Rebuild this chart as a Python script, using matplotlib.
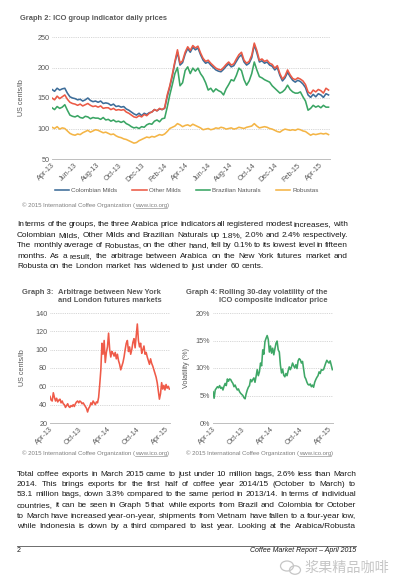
import matplotlib
matplotlib.use('Agg')
import matplotlib.pyplot as plt
import matplotlib.dates as mdates
from matplotlib.ticker import FuncFormatter
from matplotlib.patches import Ellipse
from matplotlib.lines import Line2D
import pandas as pd

W, H = 406, 588
plt.rcParams['font.family'] = ['Liberation Sans', 'DejaVu Sans']

# weekly readings, Apr-13 .. Apr-15 (one row per month)
weeks = pd.date_range('2013-04-01', '2015-04-27', freq='W-MON')

colombian = [164, 161, 166, 163, 165,  166, 158, 152, 150,  149, 147, 148, 145,
             147, 150, 146, 144, 145,  143, 145, 141, 142,  141, 138, 140, 136, 137,
             135, 136, 132, 130,  127, 124, 122, 125,  121, 125, 123, 126, 127,
             131, 129, 132, 131,  133, 152, 168, 186,  208, 225, 204, 208, 222,
             231, 225, 233, 229,  232, 221, 212, 207,  209, 204, 200, 196, 194,
             193, 197, 202, 206,  201, 203, 210, 217,  221, 209, 204, 207, 216,
             237, 224, 209, 211,  207, 209, 204, 202,  196, 200, 187, 178, 183,
             192, 185, 179, 176,  179, 177, 173, 167,  155, 151, 156, 152, 157,
             155, 151, 157, 155]
other_milds = [150, 147, 153, 149, 152,  155, 148, 143, 141,  140, 138, 140, 137,
               139, 141, 138, 136, 137,  135, 137, 133, 134,  134, 131, 133, 130, 131,
               130, 131, 127, 125,  122, 119, 118, 121,  119, 123, 121, 125, 127,
               131, 129, 133, 131,  134, 155, 170, 189,  210, 229, 207, 211, 225,
               234, 228, 236, 232,  235, 224, 215, 210,  212, 207, 203, 199, 197,
               196, 200, 205, 209,  204, 206, 214, 221,  225, 212, 207, 210, 220,
               240, 228, 212, 214,  210, 212, 207, 205,  199, 203, 190, 181, 186,
               196, 188, 182, 180,  183, 181, 178, 172,  160, 157, 163, 160, 164,
               162, 158, 166, 163]
brazilian = [134, 131, 136, 133, 135,  139, 130, 122, 120,  119, 121, 118, 117,
             120, 119, 116, 118, 117,  117, 115, 118, 114,  115, 112, 114, 111, 112,
             110, 112, 108, 106,  103, 101, 102, 100,  103, 102, 106, 108, 107,
             112, 114, 111, 116,  117, 135, 155, 172,  190, 200, 170, 175, 195,
             201, 190, 199, 194,  199, 190, 184, 175,  163, 166, 160, 165, 162,
             160, 155, 165, 172,  180, 178, 187, 199,  195, 180, 171, 178, 190,
             209, 196, 185, 183,  180, 178, 176, 170,  166, 162, 158, 160, 164,
             171, 164, 160, 158,  158, 160, 152, 145,  130, 133, 138, 135, 137,
             134, 138, 135, 135]
robustas = [102, 100, 103, 99, 101,  100, 96, 92, 90,  89, 91, 90, 93,
            95, 97, 94, 96, 98,  97, 95, 93, 94,  92, 90, 91, 88, 86,
            85, 83, 82, 80,  78, 76, 77, 80,  82, 84, 86, 85, 87,
            86, 88, 90, 89,  91, 95, 100, 102,  104, 108, 106, 103, 105,
            106, 104, 107, 105,  103, 101, 98, 99,  100, 98, 99, 101, 100,
            102, 101, 99, 100,  101, 99, 100, 102,  101, 100, 102, 103, 104,
            108, 104, 101, 102,  103, 102, 100, 99,  97, 95, 94, 97, 99,
            98, 97, 98, 97,  99, 98, 96, 95,  92, 89, 91, 90, 91,
            92, 91, 92, 90]
arbitrage = [49, 45, 44, 53, 48,  44, 47, 43, 45,  46, 42, 44, 41,
             40, 37, 39, 41, 38,  37, 39, 38, 40,  38, 41, 43, 44, 42,
             44, 43, 41, 42,  40, 38, 36, 32,  36, 38, 42, 40, 44,
             42, 40, 43, 42,  48, 62, 78, 107,  95, 110, 86, 97, 103,
             118, 100, 92, 98,  96, 93, 97, 90,  95, 88, 84, 78, 82,
             86, 92, 100, 107,  110, 98, 103, 95,  100, 108, 112, 102, 115,
             128, 110, 103, 107,  96, 100, 104, 95,  97, 92, 88, 84, 90,
             85, 82, 78, 74,  70, 64, 55, 46,  52, 64, 57, 61, 56,
             62, 58, 60, 57]
volatility = [5.7, 4.5, 6.0, 6.3, 6.6,  6.4, 6.8, 6.3, 6.5,  6.0, 6.7, 7.2, 6.8,
              8.0, 7.6, 8.0, 7.9, 7.5,  7.2, 6.6, 6.9, 6.4,  6.0, 6.2, 5.7, 5.4, 5.2,
              5.0, 4.6, 4.4, 5.3,  6.0, 6.5, 6.8, 7.9,  7.5, 7.9, 8.2, 7.4, 8.5,
              9.7, 8.6, 9.3, 10.9,  10.4, 13.3, 12.5, 14.8,  15.4, 15.9, 15.2, 12.9, 14.0,
              12.7, 13.6, 12.4, 13.5,  14.5, 14.9, 13.3, 12.9,  10.5, 9.1, 9.8, 8.7, 8.4,
              9.0, 8.6, 9.5, 10.2,  9.7, 10.2, 10.9, 10.4,  10.0, 10.6, 9.9, 11.3, 11.7,
              11.5, 10.9, 11.2, 9.8,  8.4, 8.0, 7.4, 7.0,  6.9, 7.1, 6.6, 6.9, 6.5,
              7.4, 7.9, 8.3, 8.6,  9.3, 9.0, 9.7, 9.6,  9.7, 10.3, 10.9, 11.4, 11.1,
              10.9, 11.3, 10.5, 9.7]

group_names = ['Colombian Milds', 'Other Milds', 'Brazilian Naturals', 'Robustas']
group_colors = ['#3d6d99', '#eb5a46', '#3aa564', '#f4b546']

para1 = ["In terms of the groups, the three Arabica price indicators all registered modest increases, with",
         "Colombian Milds, Other Milds and Brazilian Naturals up 1.8%, 2.0% and 2.4% respectively.",
         "The monthly average of Robustas, on the other hand, fell by 0.1% to its lowest level in fifteen",
         "months. As a result, the arbitrage between Arabica on the New York futures market and",
         "Robusta on the London market has widened to just under 60 cents."]
para2 = ["Total coffee exports in March 2015 came to just under 10 million bags, 2.6% less than March",
         "2014. This brings exports for the first half of coffee year 2014/15 (October to March) to",
         "53.1 million bags, down 3.3% compared to the same period in 2013/14. In terms of individual",
         "countries, it can be seen in Graph 5 that while exports from Brazil and Colombia for October",
         "to March have increased year-on-year, shipments from Vietnam have fallen to a four-year low,",
         "while Indonesia is down by a third compared to last year. Looking at the Arabica/Robusta"]

GRAY = '#595959'
fig = plt.figure(figsize=(W / 100, H / 100), dpi=100)
rend = fig.canvas.get_renderer()


def box(l, t, r, b):
    return [l / W, 1 - b / H, (r - l) / W, (b - t) / H]


def ftext(x, y, s, **kw):
    return fig.text(x / W, 1 - y / H, s, va='center', **kw)


def text_line(s, x0, x1, y, size, justify=True):
    words = s.split()
    arts = [ftext(0, y, w, size=size, color='#1a1a1a') for w in words]
    widths = [a.get_window_extent(rend).width for a in arts]
    gap = size * 100 / 72 * 0.278
    if justify and len(words) > 1:
        gap = (x1 - x0 - sum(widths)) / (len(words) - 1)
    x = x0
    for a, w in zip(arts, widths):
        a.set_x(x / W)
        x += w + gap


def copyright(x, y):
    size = 4.3
    c = '#7f7f7f'
    t1 = ftext(x, y, '\u00a9 2015 International Coffee Organization (', size=size, color=c)
    x += t1.get_window_extent(rend).width
    t2 = ftext(x, y, 'www.ico.org', size=size, color=c)
    w2 = t2.get_window_extent(rend).width
    fig.add_artist(Line2D([x / W, (x + w2) / W], [1 - (y + 2.6) / H] * 2, color=c, lw=0.4))
    ftext(x + w2, y, ')', size=size, color=c)


def style(ax, months):
    for s in ['left', 'right', 'top']:
        ax.spines[s].set_visible(False)
    ax.spines['bottom'].set_color('#bfbfbf')
    ax.spines['bottom'].set_linewidth(0.7)
    ax.grid(axis='y', color='#c8c8c8', linestyle=(0, (1, 1.2)), linewidth=0.6)
    ax.set_axisbelow(True)
    ax.tick_params(length=0, labelsize=5.2, colors=GRAY, pad=2)
    ax.set_xlim(pd.Timestamp('2013-04-01'), pd.Timestamp('2015-05-01'))
    ax.xaxis.set_major_locator(mdates.MonthLocator(bymonth=months))
    ax.xaxis.set_major_formatter(mdates.DateFormatter('%b-%y'))
    for lab in ax.get_xticklabels():
        lab.set_rotation(45)
        lab.set_ha('right')
        lab.set_rotation_mode('anchor')


TS = 5.5  # small graph titles
PS = 5.95  # body text

# Graph 2
ftext(20, 19, 'Graph 2: ICO group indicator daily prices', size=5.4, weight='bold', color=GRAY)
ax = fig.add_axes(box(52, 37, 330, 159))
for vals, name, col in zip([colombian, other_milds, brazilian, robustas], group_names, group_colors):
    ax.plot(weeks, vals, color=col, lw=1.15, label=name)
ax.set_ylim(50, 250)
ax.set_yticks([50, 100, 150, 200, 250])
style(ax, (2, 4, 6, 8, 10, 12))
ax.set_ylabel('US cents/lb', size=5.2, color=GRAY)
ax.yaxis.set_label_coords(-0.097, 0.5)
fig.legend(loc='center left', bbox_to_anchor=(49 / W, 1 - 190 / H), ncol=4, frameon=False,
           fontsize=4.5, labelcolor=GRAY, handlelength=2.3, handletextpad=0.35, columnspacing=2.4)
copyright(22, 205)

for i, s in enumerate(para1):
    text_line(s, 17, 348, 225 + i * 10.4, PS, justify=i < len(para1) - 1)

# Graph 3
ftext(22, 292, 'Graph 3:', size=TS, weight='bold', color=GRAY)
ftext(58, 292, 'Arbitrage between New York', size=TS, weight='bold', color=GRAY)
ftext(58, 300, 'and London futures markets', size=TS, weight='bold', color=GRAY)
ax3 = fig.add_axes(box(50, 313, 170, 423))
ax3.plot(weeks, arbitrage, color='#ef5a48', lw=1.15)
ax3.set_ylim(20, 140)
ax3.set_yticks(range(20, 141, 20))
style(ax3, (4, 10))
ax3.set_ylabel('US cents/lb', size=5.2, color=GRAY)
ax3.yaxis.set_label_coords(-0.2, 0.5)
copyright(22, 453)

# Graph 4
ftext(186, 292, 'Graph 4:', size=TS, weight='bold', color=GRAY)
ftext(328, 292, 'Rolling 30-day volatility of the', size=TS, weight='bold', color=GRAY, ha='right')
ftext(328, 300, 'ICO composite indicator price', size=TS, weight='bold', color=GRAY, ha='right')
ax4 = fig.add_axes(box(213, 313, 333, 423))
ax4.plot(weeks, [v / 100 for v in volatility], color='#3ea766', lw=1.15)
ax4.set_ylim(0, 0.2)
ax4.set_yticks([0, 0.05, 0.1, 0.15, 0.2])
ax4.yaxis.set_major_formatter(FuncFormatter(lambda v, p: f'{v:.0%}'))
style(ax4, (4, 10))
ax4.set_ylabel('Volatility (%)', size=5.2, color=GRAY)
ax4.yaxis.set_label_coords(-0.19, 0.5)
copyright(186, 453)

for i, s in enumerate(para2):
    text_line(s, 17, 356, 474 + i * 10.5, PS)

# footer
fig.add_artist(Line2D([17 / W, 356 / W], [1 - 546 / H] * 2, color='#555555', lw=0.6))
ftext(17, 551, '2', size=5, color='#1a1a1a')
ftext(356, 551, 'Coffee Market Report \u2013 April 2015', size=5, style='italic', color='#1a1a1a', ha='right')

# watermark
wm = '#c6c6c6'
fig.add_artist(Ellipse((287 / W, 1 - 566 / H), 13 / W, 10 / H, fill=False, ec=wm, lw=0.9))
fig.add_artist(Ellipse((295 / W, 1 - 570 / H), 11 / W, 8.5 / H, fill=False, ec=wm, lw=0.9))
ftext(305, 568, '浆果精品咖啡', size=10.2, color=wm, family=['Noto Sans CJK SC', 'DejaVu Sans'])

fig.savefig('out.png', dpi=100)
